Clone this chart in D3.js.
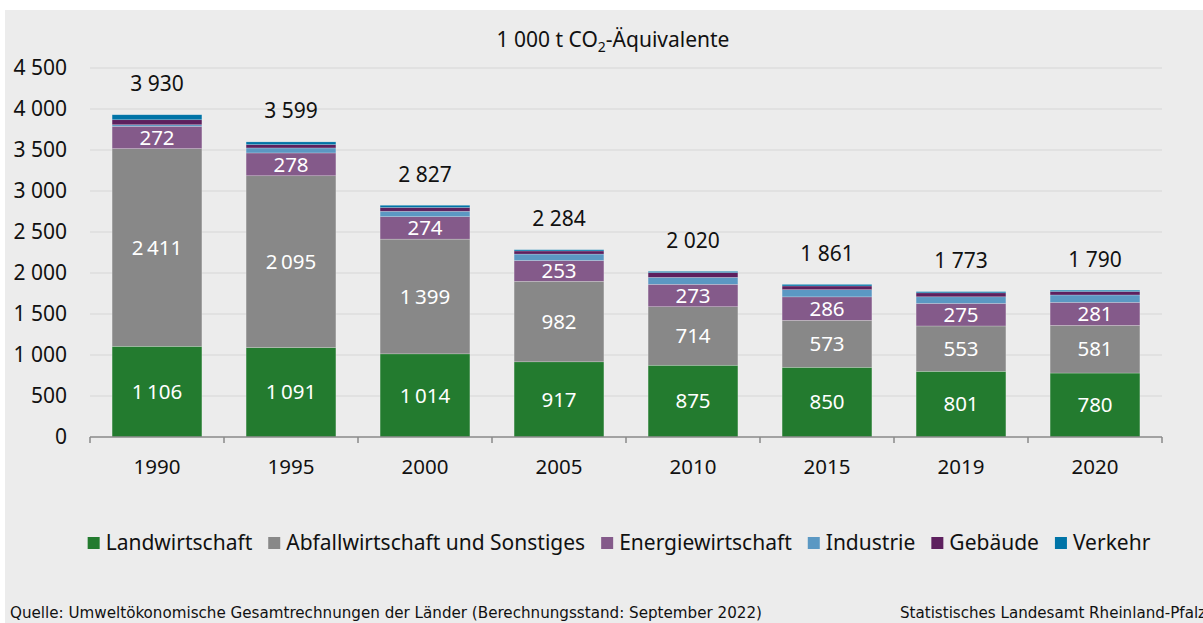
<!DOCTYPE html>
<html>
<head>
<meta charset="utf-8">
<script src="https://cdn.jsdelivr.net/npm/d3@7"></script>
<style>
  html, body { margin: 0; padding: 0; background: #fff; }
  svg { display: block; font-family: "Noto Sans", "Open Sans", sans-serif; }
</style>
</head>
<body>
<svg id="chart" width="1203" height="623"></svg>
<script>
/* ========================================================================
 * Treibhausgasemissionen nach Sektoren, gestapelte Säulen
 * ======================================================================== */

// categories
var years = ['1990', '1995', '2000', '2005', '2010', '2015', '2019', '2020'];

// series values (1 000 t CO2-Äquivalente)
var landwirtschaft   = [1106, 1091, 1014, 917, 875, 850, 801, 780];
var abfallwirtschaft = [2411, 2095, 1399, 982, 714, 573, 553, 581];
var energiewirtschaft = [272, 278, 274, 253, 273, 286, 275, 281];
var industrie        = [19, 61, 66, 79, 85, 88, 81, 90];
var gebaeude         = [61, 41, 46, 38, 58, 45, 48, 43];
var verkehr          = [61, 33, 27, 15, 15, 19, 15, 15];
var totals           = [3930, 3599, 2827, 2284, 2020, 1861, 1773, 1790];

// tick labels
var yTicks = [0, 500, 1000, 1500, 2000, 2500, 3000, 3500, 4000, 4500];

var seriesNames = ['Landwirtschaft', 'Abfallwirtschaft und Sonstiges', 'Energiewirtschaft',
                   'Industrie', 'Gebäude', 'Verkehr'];
var seriesColors = ['#237b2f', '#888888', '#845a8a', '#5b98c3', '#5d205e', '#0074a7'];
var labelled = [true, true, true, false, false, false];

(function() {

    var Chart = {
        width: 1203,
        height: 623,
        left: 90,
        right: 1162,
        top: 68,
        bottom: 437,

        // thin space inside the bars, normal space on axis and totals
        fmtThin: d3.formatLocale({ decimal: ',', thousands: '\u2009', grouping: [3], currency: ['', ''] }).format(',d'),
        fmt: d3.formatLocale({ decimal: ',', thousands: ' ', grouping: [3], currency: ['', ''] }).format(',d'),

        buildRows: function() {
            var cols = [landwirtschaft, abfallwirtschaft, energiewirtschaft, industrie, gebaeude, verkehr];
            return years.map(function(y, i) {
                var row = { year: y, total: totals[i] };
                seriesNames.forEach(function(name, k) { row[name] = cols[k][i]; });
                return row;
            });
        },

        init: function() {
            var svg = d3.select('#chart');
            var fmt = Chart.fmt;

            // background panel
            svg.append('rect')
                .attr('x', 5).attr('y', 10)
                .attr('width', Chart.width - 5).attr('height', Chart.height - 10)
                .attr('fill', '#ececec');

            var x = d3.scaleBand()
                .domain(years)
                .range([Chart.left, Chart.right])
                .paddingInner(0.33)
                .paddingOuter(0.165);

            var y = d3.scaleLinear()
                .domain([0, 4500])
                .range([Chart.bottom, Chart.top]);

            // gridlines
            svg.append('g')
                .selectAll('line')
                .data(yTicks.filter(function(t) { return t > 0; }))
                .enter().append('line')
                  .attr('x1', Chart.left).attr('x2', Chart.right)
                  .attr('y1', function(t) { return y(t); })
                  .attr('y2', function(t) { return y(t); })
                  .attr('stroke', '#d5d5d5')
                  .attr('stroke-width', 1.2);

            // y labels
            svg.append('g')
                .selectAll('text')
                .data(yTicks)
                .enter().append('text')
                  .attr('x', 67)
                  .attr('y', function(t) { return y(t); })
                  .attr('dy', '0.35em')
                  .attr('text-anchor', 'end')
                  .attr('font-size', 21)
                  .attr('fill', '#111')
                  .text(function(t) { return fmt(t); });

            // title
            var title = svg.append('text')
                .attr('x', 613).attr('y', 47)
                .attr('text-anchor', 'middle')
                .attr('font-size', 21)
                .attr('fill', '#111');
            title.append('tspan').text('1 000 t CO');
            title.append('tspan').attr('font-size', 14).attr('dy', 5).text('2');
            title.append('tspan').attr('dy', -5).text('-Äquivalente');

            // stacked bars
            var rows = Chart.buildRows();
            var stack = d3.stack().keys(seriesNames)(rows);

            var layers = svg.append('g')
                .selectAll('g')
                .data(stack)
                .enter().append('g')
                  .attr('fill', function(d, i) { return seriesColors[i]; });

            layers.selectAll('rect')
                .data(function(d) { return d; })
                .enter().append('rect')
                  .attr('x', function(d) { return x(d.data.year); })
                  .attr('width', x.bandwidth())
                  .attr('y', function(d) { return y(d[1]); })
                  .attr('height', function(d) { return y(d[0]) - y(d[1]); })
                  .attr('stroke', 'rgba(255,255,255,0.35)')
                  .attr('stroke-width', 0.6);

            // values inside segments
            layers.filter(function(d, i) { return labelled[i]; })
                .selectAll('text')
                .data(function(d) { return d; })
                .enter().append('text')
                  .attr('x', function(d) { return x(d.data.year) + x.bandwidth() / 2; })
                  .attr('y', function(d) { return y((d[0] + d[1]) / 2); })
                  .attr('dy', '0.35em')
                  .attr('text-anchor', 'middle')
                  .attr('font-size', 20.5)
                  .attr('fill', '#fff')
                  .text(function(d) { return Chart.fmtThin(d[1] - d[0]); });

            // totals
            svg.append('g')
                .selectAll('text')
                .data(rows)
                .enter().append('text')
                  .attr('x', function(d) { return x(d.year) + x.bandwidth() / 2; })
                  .attr('y', function(d) { return y(d.total) - 31; })
                  .attr('dy', '0.35em')
                  .attr('text-anchor', 'middle')
                  .attr('font-size', 21)
                  .attr('fill', '#111')
                  .text(function(d) { return fmt(d.total); });

            // x axis
            var axis = svg.append('g');
            axis.append('line')
                .attr('x1', Chart.left).attr('x2', Chart.right)
                .attr('y1', Chart.bottom).attr('y2', Chart.bottom)
                .attr('stroke', '#8a8a8a').attr('stroke-width', 1.5);
            var step = x.step();
            axis.selectAll('line.tick')
                .data(d3.range(years.length + 1))
                .enter().append('line')
                  .attr('class', 'tick')
                  .attr('x1', function(i) { return Chart.left + i * step; })
                  .attr('x2', function(i) { return Chart.left + i * step; })
                  .attr('y1', Chart.bottom).attr('y2', Chart.bottom + 6)
                  .attr('stroke', '#8a8a8a').attr('stroke-width', 1.5);
            axis.selectAll('text')
                .data(years)
                .enter().append('text')
                  .attr('x', function(yr) { return x(yr) + x.bandwidth() / 2; })
                  .attr('y', 467)
                  .attr('dy', '0.35em')
                  .attr('text-anchor', 'middle')
                  .attr('font-size', 20.5)
                  .attr('fill', '#111')
                  .text(function(yr) { return yr; });

            // legend
            var legend = svg.append('g');
            var items = legend.selectAll('g')
                .data(seriesNames)
                .enter().append('g');
            items.append('rect')
                .attr('width', 12).attr('height', 12)
                .attr('y', -6)
                .attr('fill', function(d, i) { return seriesColors[i]; });
            items.append('text')
                .attr('x', 18)
                .attr('dy', '0.35em')
                .attr('font-size', 21)
                .attr('fill', '#111')
                .text(function(d) { return d; });
            var pos = 0;
            var offsets = [];
            items.each(function() {
                offsets.push(pos);
                pos += 18 + this.querySelector('text').getComputedTextLength() + 16;
            });
            var total = pos - 16;
            var start = 619 - total / 2;
            items.attr('transform', function(d, i) { return 'translate(' + (start + offsets[i]) + ',543)'; });

            // footer
            svg.append('text')
                .attr('x', 10).attr('y', 618)
                .attr('font-size', 15)
                .attr('font-family', '"Liberation Sans Narrow", "DejaVu Sans Condensed", sans-serif')
                .attr('textLength', 752)
                .attr('lengthAdjust', 'spacingAndGlyphs')
                .attr('fill', '#111')
                .text('Quelle: Umweltökonomische Gesamtrechnungen der Länder (Berechnungsstand: September 2022)');
            svg.append('text')
                .attr('x', 900).attr('y', 618)
                .attr('font-size', 15)
                .attr('font-family', '"Liberation Sans Narrow", "DejaVu Sans Condensed", sans-serif')
                .attr('textLength', 306)
                .attr('lengthAdjust', 'spacingAndGlyphs')
                .attr('fill', '#111')
                .text('Statistisches Landesamt Rheinland-Pfalz');
        }
    };

    Chart.init();

})();
</script>
</body>
</html>
